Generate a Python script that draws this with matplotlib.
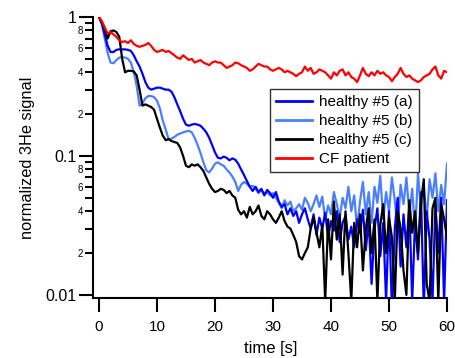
import numpy as np
import matplotlib
matplotlib.use("Agg")
import matplotlib.pyplot as plt
from matplotlib.ticker import LogLocator, FuncFormatter, MultipleLocator

plt.rcParams['font.family'] = ['Liberation Sans', 'DejaVu Sans']

time_s = np.arange(0, 60.01, 0.5)

cf_patient = [1.0, 0.93, 0.84, 0.76, 0.78, 0.75, 0.72, 0.68, 0.66, 0.67,
              0.65, 0.68, 0.64, 0.62, 0.61, 0.62, 0.63, 0.65, 0.62, 0.58,
              0.56, 0.57, 0.58, 0.56, 0.57, 0.55, 0.53, 0.51, 0.50, 0.53,
              0.51, 0.49, 0.50, 0.47, 0.48, 0.49, 0.47, 0.46, 0.45, 0.47,
              0.48, 0.47, 0.47, 0.45, 0.43, 0.44, 0.45, 0.47, 0.465, 0.45,
              0.44, 0.43, 0.41, 0.42, 0.44, 0.46, 0.45, 0.44, 0.44, 0.42,
              0.41, 0.42, 0.43, 0.42, 0.40, 0.41, 0.40, 0.39, 0.375, 0.39,
              0.40, 0.44, 0.41, 0.43, 0.39, 0.40, 0.42, 0.41, 0.40, 0.38,
              0.36, 0.40, 0.38, 0.41, 0.42, 0.38, 0.40, 0.37, 0.36, 0.34,
              0.38, 0.43, 0.39, 0.375, 0.40, 0.38, 0.41, 0.39, 0.40, 0.38,
              0.37, 0.345, 0.37, 0.39, 0.43, 0.39, 0.37, 0.38, 0.36, 0.35,
              0.34, 0.35, 0.37, 0.38, 0.39, 0.42, 0.44, 0.38, 0.36, 0.41,
              0.40]

healthy_a = [1.0, 0.9, 0.75, 0.62, 0.56, 0.56, 0.58, 0.585, 0.585, 0.585,
             0.58, 0.57, 0.53, 0.48, 0.44, 0.39, 0.34, 0.31, 0.30, 0.305,
             0.31, 0.31, 0.305, 0.30, 0.30, 0.29, 0.265, 0.235, 0.21, 0.185,
             0.168, 0.165, 0.168, 0.17, 0.168, 0.165, 0.157, 0.148, 0.135, 0.12,
             0.106, 0.097, 0.096, 0.099, 0.097, 0.093, 0.096, 0.094, 0.088, 0.08,
             0.073, 0.066, 0.06, 0.056, 0.06, 0.055, 0.058, 0.052, 0.057, 0.054,
             0.05, 0.055, 0.047, 0.043, 0.045, 0.038, 0.042, 0.037, 0.04, 0.033,
             0.038, 0.042, 0.035, 0.030, 0.038, 0.027, 0.036, 0.03, 0.039, 0.026,
             0.034, 0.029, 0.04, 0.024, 0.033, 0.037, 0.025, 0.031, 0.022, 0.035,
             0.028, 0.041, 0.021, 0.035, 0.012, 0.03, 0.042, 0.019, 0.033, 0.009,
             0.04, 0.008, 0.03, 0.05, 0.016, 0.038, 0.022, 0.045, 0.009, 0.035,
             0.018, 0.055, 0.008, 0.04, 0.025, 0.009, 0.045, 0.02, 0.05, 0.009,
             0.048]

healthy_b = [1.0, 0.88, 0.70, 0.55, 0.47, 0.465, 0.49, 0.51, 0.515, 0.51,
             0.50, 0.47, 0.40, 0.32, 0.23, 0.24, 0.26, 0.27, 0.27, 0.265,
             0.25, 0.22, 0.18, 0.155, 0.132, 0.133, 0.137, 0.142, 0.145, 0.148,
             0.15, 0.152, 0.148, 0.135, 0.12, 0.105, 0.09, 0.079, 0.076, 0.081,
             0.088, 0.09, 0.087, 0.085, 0.08, 0.076, 0.071, 0.065, 0.056, 0.062,
             0.065, 0.063, 0.06, 0.061, 0.058, 0.054, 0.057, 0.053, 0.055, 0.052,
             0.054, 0.05, 0.046, 0.042, 0.048, 0.044, 0.047, 0.04, 0.042, 0.045,
             0.041, 0.05, 0.046, 0.04, 0.045, 0.052, 0.043, 0.051, 0.035, 0.044,
             0.038, 0.055, 0.045, 0.036, 0.05, 0.042, 0.06, 0.04, 0.052, 0.03,
             0.047, 0.065, 0.038, 0.055, 0.033, 0.06, 0.046, 0.072, 0.035, 0.055,
             0.04, 0.07, 0.048, 0.03, 0.062, 0.045, 0.07, 0.038, 0.058, 0.028,
             0.075, 0.042, 0.06, 0.035, 0.068, 0.05, 0.075, 0.04, 0.062, 0.045,
             0.088]

healthy_c = [1.0, 0.92, 0.82, 0.70, 0.79, 0.80, 0.78, 0.72, 0.50, 0.40,
             0.41, 0.41, 0.405, 0.38, 0.30, 0.23, 0.235, 0.23, 0.225, 0.215,
             0.185, 0.16, 0.14, 0.13, 0.132, 0.128, 0.126, 0.124, 0.115, 0.10,
             0.085, 0.083, 0.087, 0.085, 0.087, 0.083, 0.078, 0.07, 0.063, 0.058,
             0.055, 0.056, 0.058, 0.057, 0.054, 0.056, 0.052, 0.05, 0.041, 0.038,
             0.04, 0.036, 0.043, 0.038, 0.04, 0.044, 0.037, 0.035, 0.04, 0.038,
             0.035, 0.033, 0.036, 0.04, 0.034, 0.031, 0.03, 0.027, 0.024, 0.019,
             0.018, 0.02, 0.022, 0.03, 0.036, 0.028, 0.022, 0.032, 0.009, 0.035,
             0.018, 0.047, 0.025, 0.038, 0.014, 0.04, 0.02, 0.009, 0.033, 0.022,
             0.038, 0.015, 0.03, 0.042, 0.02, 0.035, 0.009, 0.032, 0.045, 0.02,
             0.036, 0.026, 0.009, 0.04, 0.03, 0.015, 0.01, 0.048, 0.028, 0.04,
             0.02, 0.046, 0.068, 0.012, 0.009, 0.042, 0.05, 0.009, 0.045, 0.035,
             0.026]

labels = ["healthy #5 (a)", "healthy #5 (b)", "healthy #5 (c)", "CF patient"]
colors = ["#0000ff", "#4a80ff", "#000000", "#ff0000"]

fig = plt.figure(figsize=(4.56, 3.58), dpi=100)
ax = fig.add_axes([93/456, 1-298/358, (447-93)/456, (298-17)/358])

lw = 1.6
l_b, = ax.plot(time_s, healthy_b, color=colors[1], lw=lw, label=labels[1], zorder=2)
l_a, = ax.plot(time_s, healthy_a, color=colors[0], lw=lw, label=labels[0], zorder=3)
l_c, = ax.plot(time_s, healthy_c, color=colors[2], lw=lw, label=labels[2], zorder=4)
l_r, = ax.plot(time_s, cf_patient, color=colors[3], lw=lw, label=labels[3], zorder=5)

ax.set_yscale('log')
ax.set_xlim(-1.03, 60)
ax.set_ylim(0.0095, 1.0)

for s in ['top', 'right']:
    ax.spines[s].set_visible(False)
for s in ['left', 'bottom']:
    ax.spines[s].set_linewidth(1.5)

ax.xaxis.set_major_locator(MultipleLocator(10))
ax.yaxis.set_major_locator(LogLocator(base=10, subs=(1.0,)))
ax.yaxis.set_minor_locator(LogLocator(base=10, subs=(2, 3, 4, 5, 6, 7, 8, 9)))

def major_fmt(v, pos):
    if v >= 1:
        return "1"
    return "%g" % v

def minor_fmt(v, pos):
    m = int(round(v / 10 ** np.floor(np.log10(v) + 1e-9)))
    return str(m) if m in (2, 4, 6, 8) else ""

ax.yaxis.set_major_formatter(FuncFormatter(major_fmt))
ax.yaxis.set_minor_formatter(FuncFormatter(minor_fmt))

ax.tick_params(axis='x', which='major', direction='out', length=10, width=1.5,
               labelsize=11, pad=6)
ax.tick_params(axis='y', which='major', direction='out', length=10, width=1.5,
               labelsize=11.5, pad=2)
ax.tick_params(axis='y', which='minor', direction='out', length=6, width=1.5,
               labelsize=7, pad=1)

ax.set_xlabel("time [s]", fontsize=12)
ax.set_ylabel("normalized 3He signal", fontsize=11.8)
ax.xaxis.set_label_coords(0.503, -0.152)
ax.yaxis.set_label_coords(-0.163, 0.5)

leg = fig.legend(handles=[l_a, l_b, l_c, l_r], labels=labels,
                 loc='upper right', bbox_to_anchor=(419/456, 1-89/358),
                 bbox_transform=fig.transFigure, fontsize=11,
                 frameon=True, fancybox=False, borderaxespad=0,
                 handlelength=2.3, handletextpad=0.5, labelspacing=0.33,
                 borderpad=0.4)
leg.get_frame().set_edgecolor('black')
leg.get_frame().set_linewidth(1.0)
for h in leg.get_lines():
    h.set_linewidth(2)

fig.savefig("out.png", dpi=100)
